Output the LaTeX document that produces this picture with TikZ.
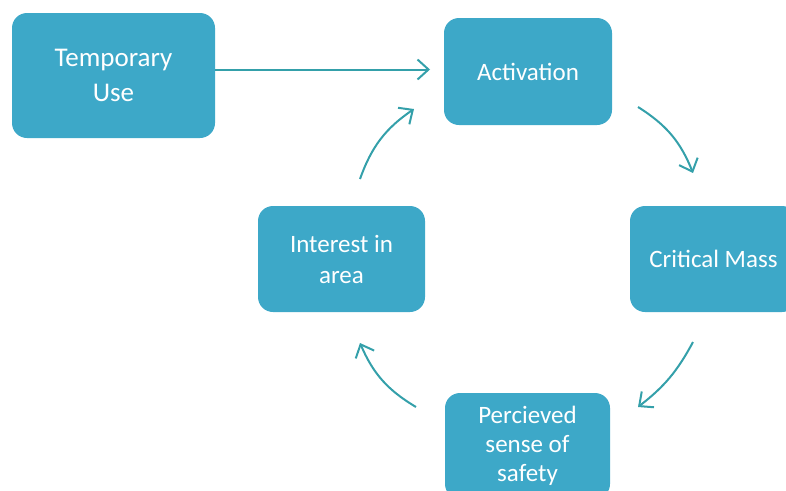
\documentclass[tikz,border=0pt]{standalone}
\usepackage{fontspec}
\setmainfont{Carlito}
\usetikzlibrary{arrows.meta}
\definecolor{boxc}{RGB}{61,168,200}
\definecolor{arrc}{RGB}{52,160,170}
\tikzset{
  stepbox/.style={draw=none, fill=boxc, rounded corners=15pt, text=white, align=center, inner sep=0pt},
  arr/.style={draw=arrc, line width=2pt, -{Straight Barb[length=11pt,width=20pt]}},
}
\begin{document}
\begin{tikzpicture}[x=1pt,y=-1pt]
\useasboundingbox (0,0) rectangle (786,490);
\clip (0,0) rectangle (786,490);
\node[stepbox, minimum width=203pt, minimum height=125pt, font=\fontsize{27}{35}\selectfont] (temp) at (113.5,75.5) {Temporary\\Use};
\node[stepbox, minimum width=168pt, minimum height=107pt, font=\fontsize{25}{30}\selectfont] (act) at (528,71.5) {Activation};
\node[stepbox, minimum width=167pt, minimum height=106pt, font=\fontsize{25}{30}\selectfont] (crit) at (713.5,259) {Critical Mass};
\node[stepbox, minimum width=167pt, minimum height=106pt, font=\fontsize{25}{31}\selectfont] (int) at (341.5,259) {Interest in\\area};
\node[stepbox, minimum width=165pt, minimum height=106pt, font=\fontsize{25}{29}\selectfont] (perc) at (527.5,446) {Percieved\\sense of\\safety};
\coordinate (tempout) at (215,69.5);
\coordinate (actin) at (430,69.5);
\draw[arr] (tempout) -- (actin);
\coordinate (a1s) at (360,179);
\coordinate (a1e) at (414,109);
\draw[arr] (a1s) to[bend left=18] (a1e);
\coordinate (a2s) at (638,107);
\coordinate (a2e) at (693,173);
\draw[arr] (a2s) to[bend left=18] (a2e);
\coordinate (a3s) at (693,342);
\coordinate (a3e) at (638,407);
\draw[arr] (a3s) to[bend left=12] (a3e);
\coordinate (a4s) at (416,407);
\coordinate (a4e) at (360,343);
\draw[arr] (a4s) to[bend left=18] (a4e);
\end{tikzpicture}
\end{document}
